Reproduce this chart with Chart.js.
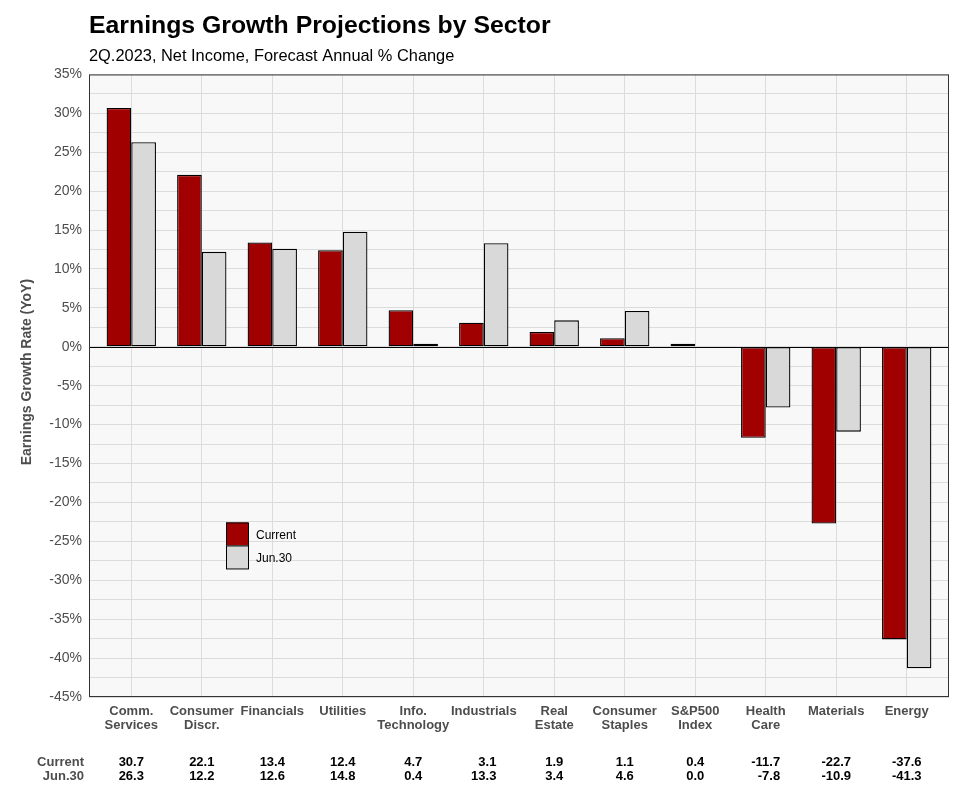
<!DOCTYPE html>
<html>
<head>
<meta charset="utf-8">
<script src="https://cdn.jsdelivr.net/npm/chart.js@4"></script>
<style>
  html, body { margin: 0; padding: 0; background: #fff; }
  #wrap { width: 968px; height: 789px; }
</style>
</head>
<body>
<div id="wrap"><canvas id="chart" width="968" height="789"></canvas></div>
<script>
const sectors = [
  ['Comm.', 'Services'], ['Consumer', 'Discr.'], ['Financials'], ['Utilities'],
  ['Info.', 'Technology'], ['Industrials'], ['Real', 'Estate'], ['Consumer', 'Staples'],
  ['S&P500', 'Index'], ['Health', 'Care'], ['Materials'], ['Energy']
];
const current = [30.7, 22.1, 13.4, 12.4, 4.7, 3.1, 1.9, 1.1, 0.4, -11.7, -22.7, -37.6];
const jun30 = [26.3, 12.2, 12.6, 14.8, 0.4, 13.3, 3.4, 4.6, 0.0, -7.8, -10.9, -41.3];
const seriesNames = ['Current', 'Jun.30'];
const yMin = -45, yMax = 35;

const RED = '#a00000';
const GREY = '#d9d9d9';
const FONT = 'Liberation Sans, Arial, sans-serif';

const toPoints = vals => vals.map((v, i) => ({ x: i + 1, y: v }));

// panel background, border, in-plot legend and the value table under the axis
const decorations = {
  id: 'decorations',
  beforeDraw(chart) {
    const { ctx, chartArea: a } = chart;
    ctx.save();
    ctx.fillStyle = '#f8f8f8';
    ctx.fillRect(a.left, a.top, a.right - a.left, a.bottom - a.top);
    ctx.restore();
  },
  afterDatasetsDraw(chart) {
    const { ctx, chartArea: a, scales } = chart;
    ctx.save();
    // zero line
    const y0 = scales.y.getPixelForValue(0);
    ctx.strokeStyle = '#000';
    ctx.lineWidth = 1;
    ctx.beginPath();
    ctx.moveTo(a.left, Math.round(y0) + 0.5);
    ctx.lineTo(a.right, Math.round(y0) + 0.5);
    ctx.stroke();
    // panel border
    ctx.strokeStyle = '#333';
    ctx.strokeRect(a.left + 0.5, a.top + 0.5, a.right - a.left - 1, a.bottom - a.top - 1);

    // legend
    const lx = a.left + 137, ly = a.top + 448;
    const colors = [RED, GREY];
    ctx.font = '12px ' + FONT;
    ctx.textBaseline = 'middle';
    ctx.textAlign = 'left';
    seriesNames.forEach((name, i) => {
      ctx.fillStyle = colors[i];
      ctx.fillRect(lx, ly + i * 23, 22, 23);
      ctx.strokeStyle = '#000';
      ctx.strokeRect(lx + 0.5, ly + i * 23 + 0.5, 22, 23);
      ctx.fillStyle = '#000';
      ctx.fillText(name, lx + 30, ly + i * 23 + 13);
    });

    // value table
    const rows = [current, jun30];
    const rowY = [a.bottom + 65, a.bottom + 79];
    ctx.font = 'bold 13px ' + FONT;
    ctx.fillStyle = '#4d4d4d';
    ctx.textAlign = 'right';
    seriesNames.forEach((name, r) => ctx.fillText(name, a.left - 5, rowY[r]));
    ctx.fillStyle = '#000';
    sectors.forEach((_, i) => {
      const cx = scales.x.getPixelForValue(i + 1);
      const txt = rows.map(vals => vals[i].toFixed(1));
      const w = Math.max(...txt.map(t => ctx.measureText(t).width));
      txt.forEach((t, r) => ctx.fillText(t, cx + w / 2, rowY[r]));
    });
    ctx.restore();
  }
};

new Chart(document.getElementById('chart'), {
  type: 'bar',
  data: {
    datasets: [
      { label: seriesNames[0], data: toPoints(current), backgroundColor: RED, borderColor: '#000', borderWidth: 1.3, borderSkipped: false },
      { label: seriesNames[1], data: toPoints(jun30), backgroundColor: GREY, borderColor: '#000', borderWidth: 1.3, borderSkipped: false }
    ]
  },
  options: {
    responsive: false,
    animation: false,
    layout: { padding: { left: 0, right: 19, top: 0, bottom: 0 } },
    datasets: { bar: { categoryPercentage: 0.7, barPercentage: 1.0 } },
    plugins: {
      legend: { display: false },
      tooltip: { enabled: false },
      title: {
        display: true,
        text: 'Earnings Growth Projections by Sector',
        align: 'start',
        fullSize: false,
        color: '#000',
        font: { family: FONT, size: 24.8, weight: 'bold' },
        padding: { top: 11, bottom: 6 }
      },
      subtitle: {
        display: true,
        text: '2Q.2023, Net Income, Forecast Annual % Change',
        align: 'start',
        fullSize: false,
        color: '#000',
        font: { family: FONT, size: 16.4 },
        padding: { top: 0, bottom: 8 }
      }
    },
    scales: {
      x: {
        type: 'linear',
        min: 0.4,
        max: 12.6,
        offset: false,
        afterBuildTicks: axis => { axis.ticks = sectors.map((_, i) => ({ value: i + 1 })); },
        afterFit: axis => { axis.height = 92; },
        grid: { color: '#dcdcdc', drawTicks: false, offset: false },
        border: { display: false },
        ticks: {
          autoSkip: false,
          maxRotation: 0,
          padding: 7,
          color: '#4d4d4d',
          font: { family: FONT, size: 13, weight: 'bold', lineHeight: 1.1 },
          callback: v => sectors[v - 1]
        }
      },
      y: {
        min: yMin,
        max: yMax,
        afterFit: axis => { axis.width = 89; },
        grid: { color: '#dcdcdc', drawTicks: false },
        border: { display: false },
        ticks: {
          stepSize: 2.5,
          autoSkip: false,
          padding: 7,
          color: '#4d4d4d',
          font: { family: FONT, size: 14 },
          callback: v => (v % 5 === 0 ? v + '%' : '')
        },
        title: {
          display: true,
          text: '       Earnings Growth Rate (YoY)',
          color: '#4d4d4d',
          font: { family: FONT, size: 14, weight: 'bold' },
          padding: { top: 19, bottom: 0 }
        }
      }
    }
  },
  plugins: [decorations]
});
</script>
</body>
</html>
